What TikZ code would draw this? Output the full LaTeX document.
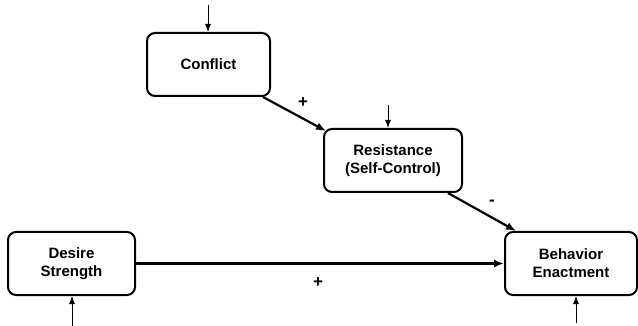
\documentclass[tikz,border=0pt]{standalone}
\usepackage{fontspec}
\setmainfont{Liberation Sans}
\usepackage{tikz}
\usetikzlibrary{arrows,arrows.meta}
\usetikzlibrary{calc}
\usetikzlibrary{positioning}

\tikzset{
	factor/.style={draw, line width=2pt, rounded corners=8pt, align=center,
		font=\fontsize{15}{18}\selectfont\bfseries, inner sep=0pt},
	path/.style={line width=2.2pt, -{Latex[length=10pt,width=8pt]}},
	input/.style={line width=1pt, -{Latex[length=8pt,width=6pt]}},
	sign/.style={font=\fontsize{17}{18}\selectfont\bfseries}
}

\begin{document}
\begin{tikzpicture}[x=1pt,y=-1pt]
		\useasboundingbox (0,0) rectangle (638,326);
		\node[factor, minimum width=123pt, minimum height=63pt] (conflict) at (208.5,64.5) {Conflict};
		\node[factor, minimum width=138pt, minimum height=63pt] (resist) at (393,160.5) {Resistance\\(Self-Control)};
		\node[factor, minimum width=127pt, minimum height=63pt] (desire) at (71.5,263.5) {Desire\\Strength};
		\node[factor, minimum width=132pt, minimum height=63pt] (behave) at (571,263.5) {Behavior\\Enactment};
		% exogenous inputs
		\coordinate (inconflict) at (208,5);
		\coordinate (inresist) at (388,105);
		\coordinate (indesire) at (72,326);
		\coordinate (inbehave) at (576,323);
		\draw[input] (inconflict) -- (conflict.north -| inconflict);
		\draw[input] (inresist) -- (resist.north -| inresist);
		\draw[input] (indesire) -- (desire.south -| indesire);
		\draw[input] (inbehave) -- (behave.south -| inbehave);
		% paths
		\draw[path] ($(conflict.south east)+(-8,0)$) -- ($(resist.north west)+(3,3)$);
		\draw[path] ($(resist.south east)+(-15,0)$) -- ($(behave.north west)+(12,0)$);
		\draw[path] (desire) -- (behave);
		\node[sign] (plusa) at (303,103) {+};
		\node[sign] (minus) at (492,203) {-};
		\node[sign] (plusb) at (318,283) {+};
	\end{tikzpicture}
\end{document}
